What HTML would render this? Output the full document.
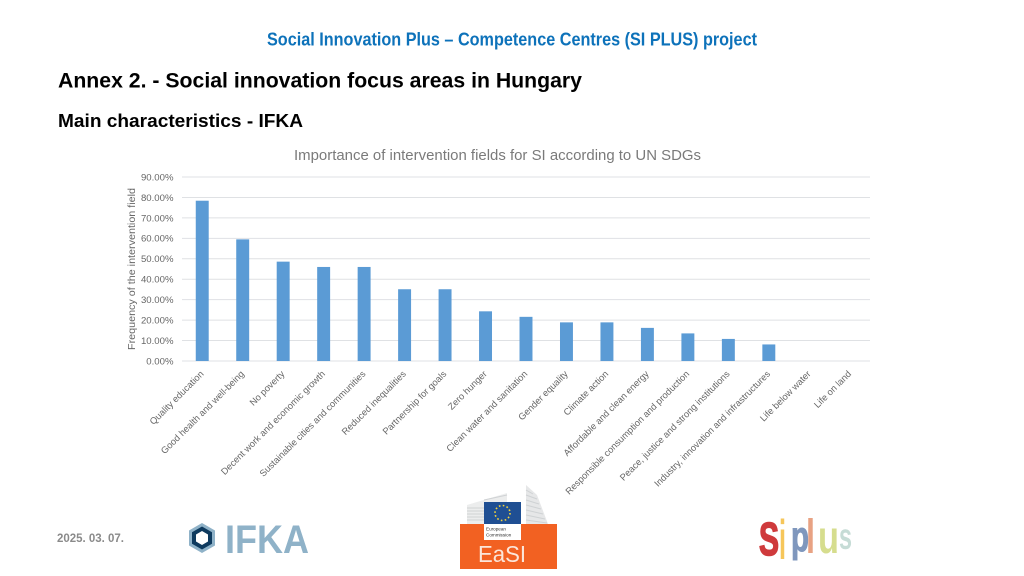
<!DOCTYPE html>
<html lang="en">
<head>
<meta charset="utf-8">
<title>Annex 2 - Social innovation focus areas in Hungary</title>
<style>
html,body{margin:0;padding:0;background:#fff;}
svg{display:block;font-family:"Liberation Sans",sans-serif;}
</style>
</head>
<body>
<svg id="slide" xmlns="http://www.w3.org/2000/svg" width="1024" height="576" viewBox="0 0 1024 576">
  <rect x="0" y="0" width="1024" height="576" fill="#ffffff"/>
  <text x="267" y="45.5" font-size="18" font-weight="700" fill="#0d72ba" textLength="490" lengthAdjust="spacingAndGlyphs">Social Innovation Plus – Competence Centres (SI PLUS) project</text>
  <text x="58" y="87.5" font-size="21.4" font-weight="700" fill="#000000" textLength="524" lengthAdjust="spacingAndGlyphs">Annex 2. - Social innovation focus areas in Hungary</text>
  <text x="58" y="127" font-size="18" font-weight="700" fill="#000000" textLength="245" lengthAdjust="spacingAndGlyphs">Main characteristics - IFKA</text>
  <text x="294" y="160" font-size="14.7" fill="#7a7a7a" textLength="407" lengthAdjust="spacingAndGlyphs">Importance of intervention fields for SI according to UN SDGs</text>
  <text transform="translate(135,350) rotate(-90)" x="0" y="0" font-size="9.8" fill="#666666" textLength="162" lengthAdjust="spacingAndGlyphs">Frequency of the intervention field</text>

  <g id="gridlines"></g>
  <g id="y-ticks"></g>
  <g id="bars"></g>
  <g id="x-labels"></g>

  <text x="57" y="542" font-size="12" font-weight="700" fill="#8a8a8a" textLength="67" lengthAdjust="spacingAndGlyphs">2025. 03. 07.</text>

  <g>
    <polygon points="202,523 215,530.5 215,545.5 202,553 189,545.5 189,530.5" fill="#8fb2c8"/>
    <polygon points="202,526.5 212,532.2 212,543.8 202,549.5 192,543.8 192,532.2" fill="#0e3a5e"/>
    <polygon points="202,531 208,534.5 208,541.5 202,545 196,541.5 196,534.5" fill="#ffffff"/>
    <text x="225" y="553" font-size="40" font-weight="700" fill="#8fb2c8" textLength="84" lengthAdjust="spacingAndGlyphs">IFKA</text>
  </g>

  <g>
    <polygon points="467,505 507,493 507,502 484,502 484,524 467,524" fill="#eceded"/>
    <polygon points="526,485 537,495 548,524 526,524" fill="#e6e7e8"/>
    <g stroke="#cfd2d4" stroke-width="1">
      <path d="M467 508H484M467 511H484M467 514H484M467 517H484M467 520H484M484 500L507 495" fill="none"/>
      <path d="M526 490L533 494M526 495L537 499M526 500L539 504M526 505L541 509M526 510L543 514M526 515L545 519M526 520L547 523" fill="none"/>
    </g>
    <rect x="460" y="524" width="97" height="45" fill="#f26122"/>
    <rect x="484" y="502" width="37" height="22" fill="#1f4f93"/>
    <circle cx="502.5" cy="513" r="7.5" fill="none" stroke="#f4d43a" stroke-width="1.6" stroke-dasharray="1.6 2.33"/>
    <rect x="484" y="524" width="37" height="16" fill="#ffffff"/>
    <text x="486" y="530.5" font-size="4.6" fill="#333333">European</text>
    <text x="486" y="536.5" font-size="4.6" fill="#333333">Commission</text>
    <text x="478" y="562" font-size="23" fill="#fbe6da" textLength="48" lengthAdjust="spacingAndGlyphs">EaSI</text>
  </g>

  <g font-weight="700">
    <text x="759" y="555" font-size="46" fill="#cf3a3c" stroke="#cf3a3c" stroke-width="1.6" textLength="20" lengthAdjust="spacingAndGlyphs">S</text>
    <text x="779" y="559" font-size="56" fill="#f6c65a" textLength="7" lengthAdjust="spacingAndGlyphs">i</text>
    <text x="791" y="551" font-size="43" fill="#7f97bd" stroke="#7f97bd" stroke-width="1" textLength="18" lengthAdjust="spacingAndGlyphs">p</text>
    <text x="806" y="553" font-size="48" fill="#e8a283" textLength="9" lengthAdjust="spacingAndGlyphs">l</text>
    <text x="818" y="553" font-size="46" fill="#d6dd8e" textLength="21" lengthAdjust="spacingAndGlyphs">u</text>
    <text x="839" y="549" font-size="37" fill="#c6dcd6" textLength="13" lengthAdjust="spacingAndGlyphs">s</text>
  </g>
</svg>
<script>
const categories = ["Quality education","Good health and well-being","No poverty","Decent work and economic growth","Sustainable cities and communities","Reduced inequalities","Partnership for goals","Zero hunger","Clean water and sanitation","Gender equality","Climate action","Affordable and clean energy","Responsible consumption and production","Peace, justice and strong institutions","Industry, innovation and infrastructures","Life below water","Life on land"];
const seriesValues = [78.4,59.5,48.6,46,46,35.1,35.1,24.3,21.6,18.9,18.9,16.2,13.5,10.8,8.1,0,0];
const tickValues = [0,10,20,30,40,50,60,70,80,90];
const tickLabels = ["0.00%","10.00%","20.00%","30.00%","40.00%","50.00%","60.00%","70.00%","80.00%","90.00%"];

const NS = "http://www.w3.org/2000/svg";
const plot = {left:182, right:870, top:177, bottom:361, max:90};
function yScale(v){ return plot.bottom - (v / plot.max) * (plot.bottom - plot.top); }
function bandWidth(){ return (plot.right - plot.left) / categories.length; }
function xCenter(i){ return plot.left + bandWidth() * (i + 0.5); }
function make(tag, attrs, parent){
  const el = document.createElementNS(NS, tag);
  Object.keys(attrs).forEach(function(k){ el.setAttribute(k, attrs[k]); });
  parent.appendChild(el);
  return el;
}

const gridG = document.getElementById("gridlines");
const tickG = document.getElementById("y-ticks");
tickValues.forEach(function(v, i){
  const line = make("line", {x1:plot.left, x2:plot.right, y1:yScale(v), y2:yScale(v), stroke:"#dfe1e4", "stroke-width":1}, gridG);
  
  
  const label = make("text", {x:173.5, y:yScale(v)+3.4, "text-anchor":"end", "font-size":9.6, fill:"#666666"}, tickG);
  label.textContent = tickLabels[i];
  
  
});

const barG = document.getElementById("bars");
const labelG = document.getElementById("x-labels");
const barW = bandWidth() * 0.32;
categories.forEach(function(name, i){
  const y = yScale(seriesValues[i]);
  const bar = make("rect", {x:xCenter(i)-barW/2, y:y, width:barW, height:plot.bottom-y, fill:"#5b9bd5"}, barG);
  
  
  const lx = xCenter(i) + 2;
  const ly = 374.5;
  const label = make("text", {x:lx, y:ly, "text-anchor":"end", "font-size":9.3, fill:"#666666", transform:"rotate(-45 " + lx + " " + ly + ")"}, labelG);
  label.textContent = name;
  
  
});
</script>
</body>
</html>
